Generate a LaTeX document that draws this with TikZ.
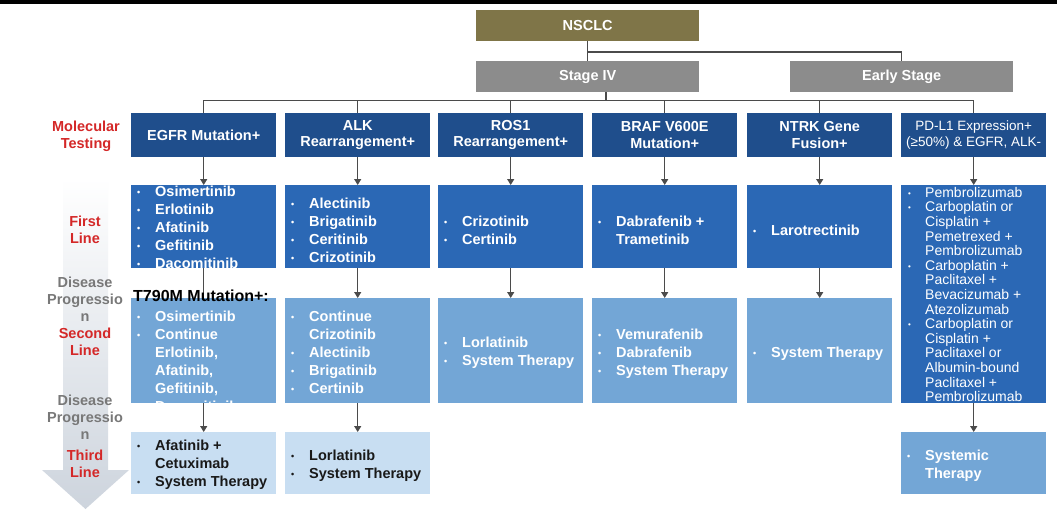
\documentclass[tikz,border=0pt]{standalone}
\usepackage{fontspec}
\setmainfont{Liberation Sans}
\usetikzlibrary{arrows.meta}
\definecolor{cNsclc}{RGB}{127,117,72}
\definecolor{cStage}{RGB}{140,140,140}
\definecolor{cHdr}{RGB}{31,78,140}
\definecolor{cRowA}{RGB}{43,104,181}
\definecolor{cRowB}{RGB}{115,166,214}
\definecolor{cRowC}{RGB}{200,222,242}
\definecolor{cLine}{RGB}{75,75,75}
\definecolor{cRed}{RGB}{212,40,40}
\definecolor{cGrayTxt}{RGB}{120,120,120}
\definecolor{cArrowBot}{RGB}{205,212,221}
\definecolor{cDark}{RGB}{25,25,25}
\newcommand{\bul}{\makebox[18pt][l]{\raisebox{1pt}{\fontsize{9}{9}\selectfont •}}}
\newcommand{\ind}{\hspace*{18pt}}
\newcommand{\pbul}{\makebox[17pt][l]{\raisebox{1pt}{\fontsize{8}{8}\selectfont •}}}
\newcommand{\pind}{\hspace*{17pt}}
\tikzset{
  boxbase/.style={inner sep=0pt, anchor=north west, minimum width=145pt},
  topbox/.style={inner sep=0pt, anchor=north west, minimum width=223pt, minimum height=31pt, text=white, font=\bfseries\fontsize{14.5}{16}\selectfont},
  hdr/.style={boxbase, fill=cHdr, minimum height=44pt, text=white, align=center, font=\bfseries\fontsize{14.5}{16.5}\selectfont},
  rowA/.style={boxbase, fill=cRowA},
  rowB/.style={boxbase, fill=cRowB},
  rowC/.style={boxbase, fill=cRowC},
  lst/.style={inner sep=0pt, anchor=west, align=left, text=white, font=\bfseries\fontsize{14.5}{18}\selectfont},
  lstdark/.style={lst, text=cDark},
  plst/.style={inner sep=0pt, anchor=west, align=left, text=white, font=\fontsize{14}{14.6}\selectfont},
  sidelbl/.style={inner sep=0pt, align=center, text=cRed, font=\bfseries\fontsize{14.5}{17}\selectfont},
  sidegray/.style={sidelbl, text=cGrayTxt},
  conn/.style={draw=cLine, line width=1.3pt},
  arr/.style={conn, -{Triangle[length=6pt,width=7pt]}}
}
\begin{document}
\begin{tikzpicture}[x=1pt,y=-1pt]
\useasboundingbox (0,0) rectangle (1057,509);
\fill[white] (0,0) rectangle (1057,509);
\fill[black] (0,0) rectangle (1057,3.5);
% background progression arrow
\shade[top color=white, bottom color=cArrowBot]
  (63,178) -- (108,178) -- (108,470) -- (129,470) -- (85.5,509) -- (42,470) -- (63,470) -- cycle;
% top boxes
\node[topbox, fill=cNsclc] (nsclc) at (476,10) {NSCLC};
\node[topbox, fill=cStage] (stage) at (476,61) {Stage IV};
\node[topbox, fill=cStage] (early) at (790,61) {Early Stage};
% header row
\node[hdr] (egfrH) at (131,113) {EGFR Mutation+};
\node[hdr] (alkH) at (285,113) {ALK\\Rearrangement+};
\node[hdr] (rosH) at (438,113) {ROS1\\Rearrangement+};
\node[hdr] (brafH) at (592,113) {BRAF V600E\\Mutation+};
\node[hdr] (ntrkH) at (747,113) {NTRK Gene\\Fusion+};
\node[hdr, font=\fontsize{13.5}{16.5}\selectfont] (pdlH) at (901,113) {PD-L1 Expression+\\(≥50\%) \& EGFR, ALK-};
% first line boxes
\node[rowA, minimum height=83pt] (egfr1) at (131,185) {};
\node[rowA, minimum height=83pt] (alk1) at (285,185) {};
\node[rowA, minimum height=83pt] (ros1) at (438,185) {};
\node[rowA, minimum height=83pt] (braf1) at (592,185) {};
\node[rowA, minimum height=83pt] (ntrk1) at (747,185) {};
\node[rowA, minimum height=218pt] (pdl1) at (901,185) {};
% second line boxes
\node[rowB, minimum height=105pt] (egfr2) at (131,298) {};
\node[rowB, minimum height=105pt] (alk2) at (285,298) {};
\node[rowB, minimum height=105pt] (ros2) at (438,298) {};
\node[rowB, minimum height=105pt] (braf2) at (592,298) {};
\node[rowB, minimum height=105pt] (ntrk2) at (747,298) {};
% third line boxes
\node[rowC, minimum height=62pt] (egfr3) at (131,432) {};
\node[rowC, minimum height=62pt] (alk3) at (285,432) {};
\node[rowB, minimum height=62pt] (pdl3) at (901,432) {};
% connectors
\coordinate (j1) at (587.5,52);
\coordinate (bus) at (606,100.5);
\draw[conn] (nsclc.south) -- (stage.north);
\draw[conn] (j1) -- (j1 -| early.north) -- (early.north);
\draw[conn] (stage.south -| bus) -- (bus);
\draw[conn] (egfrH.north) -- (egfrH.north |- bus) -- (pdlH.north |- bus) -- (pdlH.north);
\draw[conn] (alkH.north |- bus) -- (alkH.north);
\draw[conn] (rosH.north |- bus) -- (rosH.north);
\draw[conn] (brafH.north |- bus) -- (brafH.north);
\draw[conn] (ntrkH.north |- bus) -- (ntrkH.north);
\foreach \c in {egfr,alk,ros,braf,ntrk,pdl}{
  \draw[arr] (\c H.south) -- (\c 1.north);
}
\draw[conn] (egfr1.south) -- (egfr2.north);
\foreach \c in {alk,ros,braf,ntrk}{
  \draw[arr] (\c 1.south) -- (\c 2.north);
}
\draw[arr] (egfr2.south) -- (egfr3.north);
\draw[arr] (alk2.south) -- (alk3.north);
\draw[arr] (pdl1.south) -- (pdl3.north);
% first line texts
\node[lst] (egfr1t) at (137,227.5) {\bul Osimertinib\\ \bul Erlotinib\\ \bul Afatinib\\ \bul Gefitinib\\ \bul Dacomitinib};
\node[lst] (alk1t) at (291,230) {\bul Alectinib\\ \bul Brigatinib\\ \bul Ceritinib\\ \bul Crizotinib};
\node[lst] (ros1t) at (444,230.5) {\bul Crizotinib\\ \bul Certinib};
\node[lst] (braf1t) at (598,230.5) {\bul Dabrafenib +\\ \ind Trametinib};
\node[lst] (ntrk1t) at (753,230.5) {\bul Larotrectinib};
\node[plst] (pdl1t) at (908,294.5) {\pbul Pembrolizumab\\ \pbul Carboplatin or\\ \pind Cisplatin +\\ \pind Pemetrexed +\\ \pind Pembrolizumab\\ \pbul Carboplatin +\\ \pind Paclitaxel +\\ \pind Bevacizumab +\\ \pind Atezolizumab\\ \pbul Carboplatin or\\ \pind Cisplatin +\\ \pind Paclitaxel or\\ \pind Albumin-bound\\ \pind Paclitaxel +\\ \pind Pembrolizumab};
% second line texts
\begin{scope}
\clip (egfr2.north west) rectangle (egfr2.south east);
\node[lst] (egfr2t) at (137,361) {\bul Osimertinib\\ \bul Continue\\ \ind Erlotinib,\\ \ind Afatinib,\\ \ind Gefitinib,\\ \ind Dacomitinib};
\end{scope}
\node[inner sep=0pt, anchor=west, text=black, font=\bfseries\fontsize{16}{18}\selectfont] (t790) at (133,296) {T790M Mutation+:};
\node[lst] (alk2t) at (291,352) {\bul Continue\\ \ind Crizotinib\\ \bul Alectinib\\ \bul Brigatinib\\ \bul Certinib};
\node[lst] (ros2t) at (444,352.5) {\bul Lorlatinib\\ \bul System Therapy};
\node[lst] (braf2t) at (598,353.5) {\bul Vemurafenib\\ \bul Dabrafenib\\ \bul System Therapy};
\node[lst] (ntrk2t) at (753,353.5) {\bul System Therapy};
% third line texts
\node[lstdark] (egfr3t) at (137,465) {\bul Afatinib +\\ \ind Cetuximab\\ \bul System Therapy};
\node[lstdark] (alk3t) at (291,465.5) {\bul Lorlatinib\\ \bul System Therapy};
\node[lst] (pdl3t) at (907,465.5) {\bul Systemic\\ \ind Therapy};
% side labels
\node[sidelbl] (molL) at (86,136.5) {Molecular\\Testing};
\node[sidelbl] (firstL) at (85,230) {First\\Line};
\node[sidegray] (dp1L) at (85,299) {Disease\\Progressio\\n};
\node[sidelbl] (secondL) at (85,341.5) {Second\\Line};
\node[sidegray] (dp2L) at (85,417) {Disease\\Progressio\\n};
\node[sidelbl] (thirdL) at (85,464) {Third\\Line};
\end{tikzpicture}
\end{document}
